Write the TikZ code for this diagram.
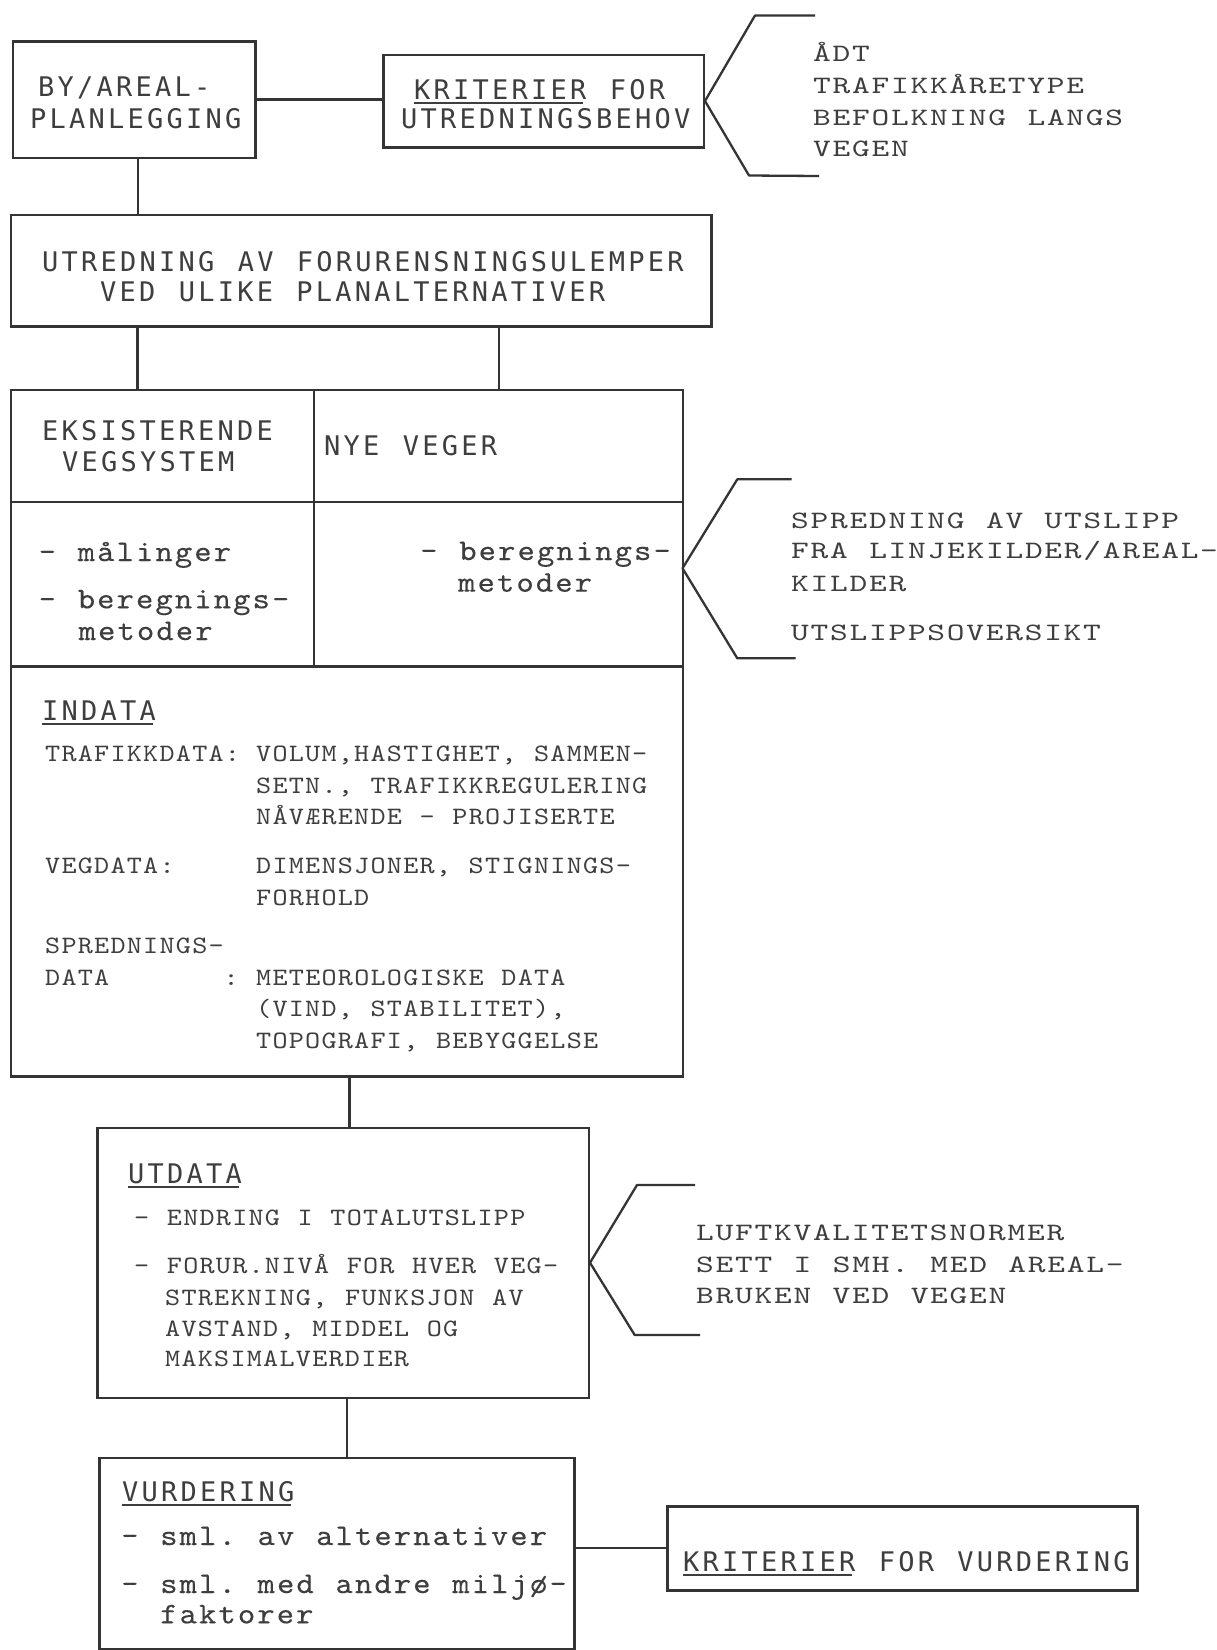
\documentclass[tikz,border=0pt]{standalone}
\usepackage{fontspec}
\frenchspacing
% heading lettering: monospaced sans, widened to typewriter pitch
\newfontfamily\hdfont{DejaVu Sans Mono}[LetterSpace=12,WordSpace=1.2]
% typewriter lettering: wide capitals, small capitals line, lower case
\newfontfamily\twfont{lmmono10-regular.otf}[FakeStretch=1.35,LetterSpace=7,WordSpace=1.1]
\newfontfamily\smfont{lmmono10-regular.otf}[FakeStretch=1.15,LetterSpace=5,WordSpace=1.08]
\newfontfamily\lcfont{lmmono10-regular.otf}[FakeStretch=1.1,LetterSpace=7,WordSpace=1.12,FakeBold=0.15]
\definecolor{ink}{RGB}{52,52,52}
\definecolor{txt}{RGB}{62,62,62}
% underline drawn under a word
\newcommand\ulword[1]{\setbox0\hbox{#1}\rlap{\rule[-4.5pt]{\dimexpr\wd0-3pt\relax}{2pt}}\box0\relax}
\tikzset{
  box/.style={draw=ink, line width=2.5pt, rectangle, inner sep=0pt, anchor=north west},
  conn/.style={draw=ink, line width=2.2pt},
  brace/.style={draw=ink, line width=2.3pt, line join=round},
  hd/.style={font=\hdfont\fontsize{27}{27}\selectfont, text=txt, anchor=base west, inner sep=0pt},
  tw/.style={font=\twfont\fontsize{25}{25}\selectfont, text=txt, anchor=base west, inner sep=0pt},
  lc/.style={font=\lcfont\fontsize{30}{30}\selectfont, text=txt, anchor=base west, inner sep=0pt},
  sm/.style={font=\smfont\fontsize{25}{25}\selectfont, text=txt, anchor=base west, inner sep=0pt}
}
\begin{document}
\begin{tikzpicture}[x=1pt, y=-1pt]
\useasboundingbox (0,0) rectangle (1217,1650);
\fill[white] (0,0) rectangle (1217,1650);

% ---------- boxes ----------
\node[box, minimum width=242.5pt, minimum height=116.5pt] (by) at (11.5,40) {};
\node[box, minimum width=320.5pt, minimum height=92.5pt] (krit1) at (382,53.5) {};
\node[box, minimum width=700.5pt, minimum height=111.5pt] (utr) at (9.5,213.5) {};
\node[box, minimum width=672pt, minimum height=276.5pt] (tab) at (9.5,388.5) {};
\node[box, minimum width=672pt, minimum height=410pt] (ind) at (9.5,665) {};
\node[box, minimum width=491.5pt, minimum height=270pt] (utd) at (96,1126.5) {};
\node[box, minimum width=475pt, minimum height=191.5pt] (vur) at (98,1456.5) {};
\node[box, minimum width=470pt, minimum height=84pt] (krit2) at (666,1505) {};

% table dividers
\coordinate (tv) at (314.3,0);
\coordinate (th) at (0,501.7);
\draw[conn] (tab.north -| tv) -- (tab.south -| tv);
\draw[conn] (tab.west |- th) -- (tab.east |- th);

% ---------- connectors ----------
\coordinate (c1) at (138,0);
\coordinate (c2) at (137.5,0);
\coordinate (c3) at (499,0);
\coordinate (c4) at (349.5,0);
\coordinate (c5) at (347,0);
\draw[conn] (by.east) -- (by.east -| krit1.west);
\draw[conn] (by.south -| c1) -- (utr.north -| c1);
\draw[conn] (utr.south -| c2) -- (tab.north -| c2);
\draw[conn] (utr.south -| c3) -- (tab.north -| c3);
\draw[conn] (ind.south -| c4) -- (utd.north -| c4);
\draw[conn] (utd.south -| c5) -- (vur.north -| c5);
\draw[conn] (krit2.west) -- (krit2.west -| vur.east);

% ---------- brackets ----------
\coordinate (b1u) at (815,15.5);
\coordinate (b1uc) at (755,15.5);
\coordinate (b1lc) at (749,175.5);
\coordinate (b1l) at (819,176);
\draw[brace] (b1u) -- (b1uc) -- (krit1.east) -- (b1lc) -- (b1l);

\coordinate (b2u) at (791.6,479.3);
\coordinate (b2uc) at (737.3,479.3);
\coordinate (b2a) at (682.5,568.3);
\coordinate (b2lc) at (737.3,658.3);
\coordinate (b2l) at (795.5,658.3);
\draw[brace] (b2u) -- (b2uc) -- (b2a) -- (b2lc) -- (b2l);

\coordinate (b3u) at (695,1185);
\coordinate (b3uc) at (637,1185);
\coordinate (b3lc) at (634.7,1335);
\coordinate (b3l) at (700,1335);
\draw[brace] (b3u) -- (b3uc) -- (utd.east) -- (b3lc) -- (b3l);

% ---------- texts ----------
\node[hd] (by1) at (38,96.5) {BY/AREAL-};
\node[hd] (by2) at (30,128) {PLANLEGGING};

\node[hd] (k1a) at (414,99) {\ulword{KRITERIER} FOR};
\node[hd] (k1b) at (401,128) {UTREDNINGSBEHOV};

\node[tw] (r1a) at (813,61.7) {ÅDT};
\node[tw] (r1b) at (813,93.3) {TRAFIKKÅRETYPE};
\node[tw] (r1c) at (813,125) {BEFOLKNING LANGS};
\node[tw] (r1d) at (813,156.7) {VEGEN};

\node[hd] (u1) at (42,271.5) {UTREDNING AV FORURENSNINGSULEMPER};
\node[hd] (u2) at (100,301.5) {VED ULIKE PLANALTERNATIVER};

\node[hd] (e1) at (42,440) {EKSISTERENDE};
\node[hd] (e2) at (62,471.5) {VEGSYSTEM};
\node[hd] (n1) at (324,455) {NYE VEGER};

\node[lc] (ml1) at (38.5,561) {- målinger};
\node[lc] (ml2) at (38.5,608.3) {- beregnings-};
\node[lc] (ml3) at (78.5,640) {metoder};
\node[lc] (mr1) at (420,560) {- beregnings-};
\node[lc] (mr2) at (458,591.7) {metoder};

\node[tw] (r2a) at (791,528.3) {SPREDNING AV UTSLIPP};
\node[tw] (r2b) at (791,558) {FRA LINJEKILDER/AREAL-};
\node[tw] (r2c) at (791,591.7) {KILDER};
\node[tw] (r2d) at (791,640) {UTSLIPPSOVERSIKT};

\node[hd] (inh) at (42,720) {\ulword{INDATA}};
\node[sm] (il1) at (45,761.7) {TRAFIKKDATA:};
\node[sm] (iv1) at (256,761.7) {VOLUM,HASTIGHET, SAMMEN-};
\node[sm] (iv2) at (256,793) {SETN., TRAFIKKREGULERING};
\node[sm] (iv3) at (256,824.7) {NÅVÆRENDE - PROJISERTE};
\node[sm] (il2) at (45,873.3) {VEGDATA:};
\node[sm] (iv4) at (256,873.3) {DIMENSJONER, STIGNINGS-};
\node[sm] (iv5) at (256,905) {FORHOLD};
\node[sm] (il3) at (45,953.3) {SPREDNINGS-};
\node[sm] (il4) at (45,985) {DATA};
\node[sm] (iv6) at (223.3,985) {: METEOROLOGISKE DATA};
\node[sm] (iv7) at (256,1016.7) {(VIND, STABILITET),};
\node[sm] (iv8) at (256,1048.3) {TOPOGRAFI, BEBYGGELSE};

\node[hd] (uth) at (128,1183) {\ulword{UTDATA}};
\node[sm] (ut1) at (134,1225) {- ENDRING I TOTALUTSLIPP};
\node[sm] (ut2) at (134,1273.3) {- FORUR.NIVÅ FOR HVER VEG-};
\node[sm] (ut3) at (165,1305) {STREKNING, FUNKSJON AV};
\node[sm] (ut4) at (165,1336.7) {AVSTAND, MIDDEL OG};
\node[sm] (ut5) at (165,1366.7) {MAKSIMALVERDIER};

\node[tw] (r3a) at (696,1240) {LUFTKVALITETSNORMER};
\node[tw] (r3b) at (696,1272) {SETT I SMH. MED AREAL-};
\node[tw] (r3c) at (696,1303) {BRUKEN VED VEGEN};

\node[hd] (vh) at (122,1501.5) {\ulword{VURDERING}};
\node[lc] (v1) at (121,1545) {- sml. av alternativer};
\node[lc] (v2) at (121,1593) {- sml. med andre miljø-};
\node[lc] (v3) at (160,1623.3) {faktorer};

\node[hd] (k2) at (683,1571) {\ulword{KRITERIER} FOR VURDERING};
\end{tikzpicture}
\end{document}
